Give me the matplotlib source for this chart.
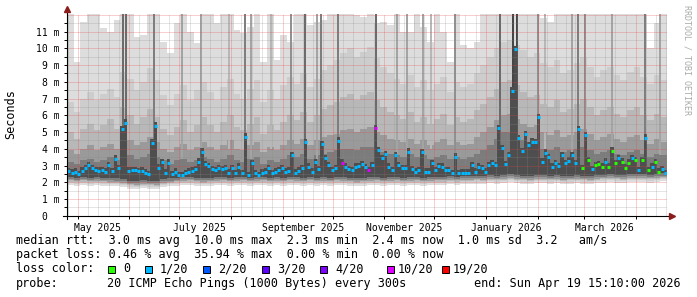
import calendar
from datetime import datetime

import matplotlib
matplotlib.use("Agg")
from matplotlib import pyplot as plt
from matplotlib.lines import Line2D
from matplotlib.patches import Rectangle

# Image size in pixels.
W, H = 697, 297
MONO = "DejaVu Sans Mono"

# Time range of the graph.
START = datetime(2025, 4, 24, 15, 10)
SPAN_DAYS = 360

# Median rtt (ms), one value per 2 day step.
median_ms = [
    2.67, 2.57, 2.63, 2.49, 2.69, 2.83, 3.01, 2.83, 2.73, 2.69,
    2.73, 2.63, 3.01, 2.67, 3.41, 2.83, 5.18, 5.56, 2.69, 2.73,
    2.73, 2.67, 2.69, 2.57, 2.49, 4.36, 5.38, 2.88, 3.21, 2.57,
    3.17, 2.49, 2.63, 2.43, 2.43, 2.53, 2.63, 2.70, 2.77, 3.23,
    3.83, 3.09, 2.97, 2.80, 2.73, 2.83, 2.80, 2.83, 2.57, 2.83,
    2.53, 2.93, 2.53, 4.72, 2.43, 3.13, 2.53, 2.43, 2.57, 2.63,
    2.83, 2.53, 2.63, 2.73, 2.83, 2.63, 2.70, 3.63, 2.57, 2.69,
    2.83, 4.39, 2.93, 2.63, 3.19, 2.77, 4.29, 3.45, 3.03, 2.73,
    2.83, 4.48, 3.17, 2.93, 2.77, 2.73, 2.93, 2.97, 3.09, 2.90,
    2.73, 3.03, 5.22, 3.93, 3.43, 3.69, 2.93, 2.73, 3.63, 3.03,
    2.83, 2.83, 3.83, 2.80, 2.63, 2.73, 3.79, 2.63, 2.63, 3.13,
    2.73, 2.97, 2.93, 2.73, 2.73, 2.53, 3.53, 2.53, 2.57, 2.57,
    2.57, 3.03, 2.63, 2.93, 2.83, 2.63, 3.03, 3.13, 3.03, 5.22,
    4.03, 3.09, 3.60, 7.47, 9.96, 4.63, 3.85, 4.88, 4.20, 4.42,
    4.40, 5.88, 3.23, 3.77, 3.50, 2.93, 3.13, 2.97, 3.63, 3.13,
    3.29, 3.63, 3.13, 5.16, 2.83, 4.82, 3.33, 2.77, 3.03, 3.09,
    2.93, 3.23, 2.93, 3.89, 3.13, 3.43, 3.23, 2.87, 3.17, 3.43,
    3.33, 2.73, 3.33, 4.66, 2.73, 2.93, 3.19, 2.63, 2.77, 2.53,
]

# Lost pings out of 20, one value per 2 day step.
loss_count = [
    1, 1, 1, 1, 1, 1, 1, 1, 1, 1, 1, 1, 1, 1, 1, 1, 1, 1, 1, 1,
    1, 1, 1, 1, 1, 1, 1, 1, 1, 1, 1, 1, 1, 1, 1, 1, 1, 1, 1, 1,
    1, 1, 1, 1, 1, 1, 1, 1, 1, 1, 1, 1, 1, 1, 1, 1, 1, 1, 1, 1,
    1, 1, 1, 1, 1, 1, 1, 1, 1, 1, 1, 1, 1, 1, 1, 1, 1, 1, 1, 1,
    1, 1, 10, 1, 1, 1, 1, 1, 1, 1, 10, 1, 10, 1, 1, 1, 1, 1, 1, 1,
    1, 1, 1, 1, 1, 1, 1, 1, 1, 1, 1, 1, 1, 1, 1, 1, 1, 1, 1, 1,
    1, 1, 1, 1, 1, 1, 1, 1, 1, 1, 1, 1, 1, 1, 1, 1, 1, 1, 1, 1,
    1, 1, 1, 1, 1, 1, 1, 1, 1, 1, 1, 1, 1, 1, 0, 1, 0, 1, 0, 0,
    0, 1, 0, 0, 0, 1, 0, 0, 0, 1, 0, 1, 0, 1, 0, 1, 0, 0, 1, 1,
]

# Smoke (ping spread, ms), one value per 4 day step.
smoke_min = [
    1.85, 1.80, 1.85, 1.80, 1.82, 1.80, 1.78, 1.75, 1.70, 1.62,
    1.60, 1.65, 1.62, 1.60, 1.70, 1.75, 1.80, 1.82, 1.85, 1.80,
    1.78, 1.80, 1.82, 1.85, 1.80, 1.82, 1.85, 1.80, 1.82, 1.85,
    1.80, 1.82, 1.80, 1.85, 1.82, 1.80, 1.85, 1.80, 1.82, 1.80,
    1.85, 1.82, 1.80, 1.78, 1.80, 1.82, 1.85, 1.80, 1.82, 1.85,
    1.80, 1.82, 1.85, 1.80, 1.82, 1.85, 1.85, 1.88, 1.85, 1.90,
    1.88, 1.92, 1.90, 1.95, 1.92, 1.95, 2.00, 1.95, 1.92, 1.90,
    1.95, 1.95, 1.92, 1.95, 1.90, 1.92, 1.95, 1.92, 1.90, 1.95,
    1.98, 2.00, 1.98, 1.95, 2.00, 2.02, 2.00, 1.98, 2.00, 2.05,
]
smoke_max = [
    12.5, 9.2, 11.6, 12.5, 12.5, 11.2, 11.0, 11.7, 12.5, 12.5,
    10.7, 10.8, 12.5, 12.5, 10.4, 9.7, 11.5, 12.5, 11.0, 10.3,
    12.5, 12.5, 11.5, 12.5, 12.5, 11.1, 10.9, 11.3, 12.5, 9.2,
    12.5, 9.3, 10.8, 10.4, 12.5, 12.5, 11.4, 11.6, 11.7, 12.5,
    12.5, 12.5, 12.5, 12.0, 11.9, 12.5, 11.5, 11.6, 11.4, 12.5,
    11.0, 11.0, 12.5, 11.3, 10.4, 12.5, 11.0, 9.2, 12.5, 10.2,
    10.0, 10.4, 12.5, 12.5, 12.5, 12.5, 12.5, 12.5, 12.5, 12.5,
    12.5, 11.8, 11.6, 12.5, 12.5, 12.5, 12.5, 12.5, 12.5, 12.5,
    12.5, 12.5, 12.5, 12.5, 12.5, 12.5, 12.5, 10.0, 11.5, 12.5,
]
smoke_q2 = [
    6.8, 6.2, 7.0, 7.4, 6.9, 7.3, 7.6, 7.1, 8.6, 8.2,
    7.5, 8.0, 8.8, 8.1, 7.2, 6.6, 7.3, 7.8, 6.9, 7.5,
    8.0, 7.4, 6.9, 7.7, 8.2, 7.3, 7.0, 7.6, 8.1, 6.8,
    7.5, 7.0, 7.8, 8.3, 7.9, 8.5, 7.7, 8.2, 8.7, 9.0,
    9.3, 9.7, 10.0, 9.5, 9.8, 10.1, 9.4, 8.9, 8.5, 8.2,
    7.9, 8.4, 7.7, 8.1, 7.5, 7.9, 8.3, 7.4, 8.0, 7.7,
    7.9, 8.5, 9.0, 9.5, 10.0, 10.4, 10.5, 10.2, 9.9, 9.5,
    9.7, 9.1, 8.9, 9.3, 8.5, 8.7, 9.1, 9.5, 8.9, 8.3,
    8.7, 8.9, 8.4, 8.1, 8.6, 8.9, 8.3, 7.9, 8.4, 8.1,
]
smoke_q3 = [
    5.0, 4.6, 5.2, 5.5, 5.1, 5.4, 5.8, 5.2, 6.5, 6.0,
    5.5, 5.9, 6.4, 5.9, 5.2, 4.8, 5.3, 5.7, 5.0, 5.4,
    5.9, 5.4, 5.0, 5.6, 6.0, 5.3, 5.1, 5.5, 5.9, 4.9,
    5.4, 5.1, 5.6, 6.0, 5.7, 6.2, 5.6, 6.0, 6.4, 6.6,
    6.8, 7.1, 7.3, 6.9, 7.2, 7.4, 6.9, 6.5, 6.2, 6.0,
    5.8, 6.2, 5.6, 5.9, 5.5, 5.8, 6.1, 5.4, 5.9, 5.6,
    5.8, 6.3, 6.7, 7.1, 7.6, 8.0, 8.1, 7.8, 7.4, 7.1,
    7.2, 6.7, 6.5, 6.9, 6.2, 6.4, 6.7, 7.0, 6.5, 6.0,
    6.3, 6.5, 6.1, 5.9, 6.3, 6.5, 6.0, 5.7, 6.1, 5.9,
]
smoke_q4 = [
    3.9, 3.7, 4.0, 4.2, 3.9, 4.1, 4.3, 4.0, 4.8, 4.5,
    4.2, 4.4, 4.7, 4.4, 4.0, 3.8, 4.1, 4.3, 3.9, 4.1,
    4.4, 4.1, 3.9, 4.2, 4.5, 4.0, 3.9, 4.2, 4.4, 3.8,
    4.1, 3.9, 4.2, 4.5, 4.3, 4.6, 4.2, 4.5, 4.7, 4.8,
    4.9, 5.1, 5.2, 5.0, 5.2, 5.3, 5.0, 4.8, 4.6, 4.5,
    4.4, 4.6, 4.3, 4.5, 4.2, 4.4, 4.6, 4.2, 4.4, 4.2,
    4.3, 4.7, 5.0, 5.3, 5.7, 6.0, 6.1, 5.8, 5.5, 5.3,
    5.4, 5.0, 4.8, 5.1, 4.7, 4.8, 5.0, 5.2, 4.9, 4.5,
    4.7, 4.9, 4.6, 4.4, 4.7, 4.8, 4.5, 4.3, 4.6, 4.4,
]
smoke_q5 = [
    3.2, 3.1, 3.3, 3.4, 3.2, 3.3, 3.5, 3.3, 3.8, 3.6,
    3.4, 3.5, 3.7, 3.5, 3.3, 3.1, 3.3, 3.4, 3.2, 3.3,
    3.5, 3.4, 3.2, 3.4, 3.6, 3.3, 3.2, 3.4, 3.5, 3.1,
    3.3, 3.2, 3.4, 3.6, 3.5, 3.7, 3.4, 3.6, 3.7, 3.8,
    3.9, 4.0, 4.0, 3.9, 4.1, 4.1, 3.9, 3.8, 3.7, 3.6,
    3.5, 3.7, 3.5, 3.6, 3.4, 3.5, 3.6, 3.4, 3.5, 3.4,
    3.5, 3.7, 3.9, 4.2, 4.6, 5.0, 5.0, 4.7, 4.5, 4.3,
    4.3, 4.0, 3.9, 4.1, 3.8, 3.9, 4.0, 4.1, 3.9, 3.7,
    3.8, 3.9, 3.7, 3.6, 3.8, 3.9, 3.7, 3.5, 3.7, 3.6,
]

# Short bursts where most pings were slow (day, lowest ms, innermost smoke band hit).
spike_day = [33.3, 35.6, 52.2, 69.0, 80.1, 96.9, 106.8, 110.4, 122.1, 134.1,
             142.5, 149.7, 152.4, 162.3, 185.1, 198.0, 204.0, 213.3, 218.1, 232.5,
             259.5, 267.6, 269.7, 282.6, 286.8, 302.7, 306.3, 310.5, 327.0, 346.5, 355.8]
spike_low = [2.4, 2.4, 2.5, 3.4, 3.4, 4.0, 2.5, 3.4, 4.0, 3.2,
             2.4, 3.4, 2.6, 2.6, 2.5, 3.6, 3.6, 3.6, 4.0, 3.4,
             2.5, 2.6, 2.6, 3.4, 4.0, 3.6, 2.6, 3.2, 3.6, 2.6, 3.6]
spike_band = [7, 7, 6, 4, 4, 3, 6, 4, 3, 5,
              7, 4, 6, 6, 7, 4, 4, 4, 3, 5,
              7, 9, 9, 5, 3, 4, 6, 5, 4, 6, 4]

# Legend.
legend_labels = ["0", "1/20", "2/20", "3/20", "4/20", "10/20", "19/20"]
legend_counts = [0, 1, 2, 3, 4, 10, 19]
legend_colors = ["#26ff00", "#00b8ff", "#0059ff", "#5e00ff", "#7e00ff", "#dd00ff", "#ff0000"]
legend_box_x = [108, 145, 203, 262, 320, 387, 442]
legend_text_x = [123, 160, 218, 277, 335, 398, 453]

y_tick_labels = ["0  ", "1 m", "2 m", "3 m", "4 m", "5 m", "6 m", "7 m", "8 m", "9 m", "10 m", "11 m"]
x_label_months = [(2025, 5), (2025, 7), (2025, 9), (2025, 11), (2026, 1), (2026, 3)]

stats_lines = [
    "median rtt:  3.0 ms avg  10.0 ms max  2.3 ms min  2.4 ms now  1.0 ms sd  3.2   am/s",
    "packet loss: 0.46 % avg  35.94 % max  0.00 % min  0.00 % now",
]


def day_of(d: datetime) -> float:
    """
    Days since the start of the graph.
    :param d: The date.
    :return: The offset in days.
    """
    return (d - START).total_seconds() / 86400


def gray(band: int) -> str:
    """
    Smoke colour for one of the ten ping bands (1 outer, 10 inner).
    :param band: The band index.
    :return: A hex colour.
    """
    v = int(190 / 10 * (10 - band)) + 50
    return f"#{v:02x}{v:02x}{v:02x}"


def fx(x: float) -> float:
    return x / W


def fy(y: float) -> float:
    return 1 - y / H


fig = plt.figure(figsize=(W / 100, H / 100), dpi=100, facecolor="white")
y0, y_top, px_per_ms = 215.7, 14.0, 16.73
ax = fig.add_axes([fx(67), fy(y0), 600 / W, (y0 - y_top) / H])
ax.set_xlim(0, SPAN_DAYS)
ax.set_ylim(0, (y0 - y_top) / px_per_ms)
ax.set_facecolor("white")
for spine in ax.spines.values():
    spine.set_visible(False)

# Smoke bands, outermost first.
x4 = [4 * j for j in range(len(smoke_max))]
layers = [(0.00, smoke_max, "#dddddd"), (0.12, smoke_q2, "#cdcdcd"), (0.19, smoke_q3, "#b8b8b8"),
          (0.26, smoke_q4, "#9a9a9a"), (0.35, smoke_q5, "#7c7c7c")]
for offset, upper, color in layers:
    bottoms = [lo + offset for lo in smoke_min]
    heights = [u - b for u, b in zip(upper, bottoms)]
    ax.bar(x4, heights, width=4, bottom=bottoms, align="edge", color=color,
           linewidth=0, antialiased=False, zorder=1)

# Slow bursts reaching the top of the graph.
ax.bar(spike_day, [13 - lo for lo in spike_low], width=1.2, bottom=spike_low,
       color=[gray(b) for b in spike_band], linewidth=0, antialiased=False, zorder=2)

# Dark core round the median.
x2 = [2 * i for i in range(len(median_ms))]
core_lo = [smoke_min[i // 2] + 0.48 for i in range(len(median_ms))]
core_hi = [m + 0.2 for m in median_ms]
ax.bar(x2, [h - l for h, l in zip(core_hi, core_lo)], width=2, bottom=core_lo, align="edge",
       color="#4e4e4e", linewidth=0, antialiased=False, zorder=3)

# Median coloured by loss.
loss_color = dict(zip(legend_counts, legend_colors))
ax.hlines(median_ms, [x + 0.15 for x in x2], [x + 1.95 for x in x2],
          colors=[loss_color[c] for c in loss_count], linewidth=2.2, zorder=6)

# Grid on top of the smoke.
month_days = []
for year, month in [(2025, m) for m in range(5, 13)] + [(2026, m) for m in range(1, 5)]:
    month_days.append(day_of(datetime(year, month, 1)))
minor_days = []
for k, d in enumerate(month_days[:-1]):
    step = (month_days[k + 1] - d) / 5
    minor_days += [d + step * n for n in range(1, 5)]
minor_days += [month_days[-1] + 6.0 * n for n in range(1, 4)]
minor_days += [month_days[0] - 6.0]
dots = (0, (1, 1))
for d in minor_days:
    ax.axvline(d, color=(0.55, 0.55, 0.55, 0.45), linewidth=0.72, linestyle=dots, zorder=4)
for d in month_days:
    ax.axvline(d, color=(0.9, 0.25, 0.25, 0.5), linewidth=0.72, linestyle=dots, zorder=5)
for k in range(12):
    ax.axhline(k + 0.5, color=(0.55, 0.55, 0.55, 0.45), linewidth=0.72, linestyle=dots, zorder=4)
for k in range(1, 13):
    ax.axhline(k, color=(0.9, 0.25, 0.25, 0.5), linewidth=0.72, linestyle=dots, zorder=5)

# Axis ticks and labels.
ax.set_yticks(range(12), y_tick_labels, fontfamily=MONO, fontsize=7)
ax.set_yticks([k + 0.5 for k in range(12)], minor=True)
ax.tick_params(axis="y", which="both", length=2, width=0.7, pad=3.5)
ax.set_xticks(month_days, [""] * len(month_days))
label_days = [day_of(datetime(y, m, 1)) + 12.2 for y, m in x_label_months]
label_text = [f"{calendar.month_name[m]} {y}" for y, m in x_label_months]
ax.set_xticks(label_days, label_text, minor=True, fontfamily=MONO, fontsize=7)
ax.tick_params(axis="x", which="major", length=2, width=0.7)
ax.tick_params(axis="x", which="minor", length=0, pad=5)

# Axis lines with arrows.
fig.add_artist(Line2D([fx(63), fx(670)], [fy(y0), fy(y0)], color="black", linewidth=0.8))
fig.add_artist(Line2D([fx(67), fx(67)], [fy(y0 + 3), fy(11)], color="black", linewidth=0.8))
fig.add_artist(Line2D([fx(672)], [fy(y0)], marker=">", markersize=4, color="#8c1c1c", linewidth=0))
fig.add_artist(Line2D([fx(67)], [fy(9)], marker="^", markersize=4, color="#8c1c1c", linewidth=0))

fig.text(fx(11), fy(114), "Seconds", rotation=90, ha="center", va="center", fontfamily=MONO, fontsize=8.5)
fig.text(fx(687), fy(60), "RRDTOOL / TOBI OETIKER", rotation=270, ha="center", va="center",
         fontfamily=MONO, fontsize=6, color="#aaaaaa")

# Legend lines below the graph.
fig.text(fx(16), fy(244), stats_lines[0], fontfamily=MONO, fontsize=8.5, va="baseline")
fig.text(fx(16), fy(258.3), stats_lines[1], fontfamily=MONO, fontsize=8.5, va="baseline")
fig.text(fx(16), fy(272.5), "loss color:", fontfamily=MONO, fontsize=8.5, va="baseline")
for bx, tx, label, color in zip(legend_box_x, legend_text_x, legend_labels, legend_colors):
    fig.add_artist(Rectangle((fx(bx), fy(272.5)), 7 / W, 7 / H, facecolor=color,
                             edgecolor="black", linewidth=0.7))
    fig.text(fx(tx), fy(272.5), label, fontfamily=MONO, fontsize=8.5, va="baseline")
fig.text(fx(16), fy(287), "probe:", fontfamily=MONO, fontsize=8.5, va="baseline")
fig.text(fx(107), fy(287), "20 ICMP Echo Pings (1000 Bytes) every 300s", fontfamily=MONO,
         fontsize=8.5, va="baseline")
fig.text(fx(681), fy(287), "end: Sun Apr 19 15:10:00 2026", fontfamily=MONO, fontsize=8.5,
         va="baseline", ha="right")

fig.savefig("out.png", dpi=100, facecolor="white")
plt.close(fig)
